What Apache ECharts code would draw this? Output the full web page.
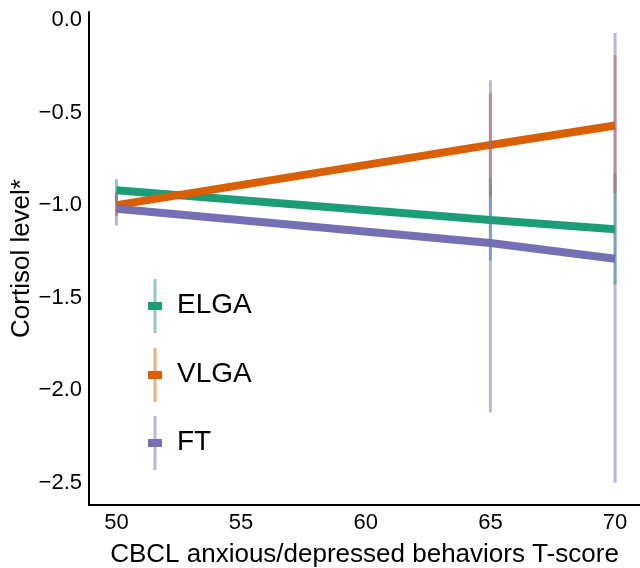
<!DOCTYPE html>
<html>
<head>
<meta charset="utf-8">
<script src="https://cdn.jsdelivr.net/npm/echarts@6/dist/echarts.min.js"></script>
<style>
html,body{margin:0;padding:0;background:#fff;}
#chart{width:640px;height:568px;}
</style>
</head>
<body>
<div id="chart"></div>
<script>
// ---- data ----
var xValues = [50, 65, 70];
var groups = ['ELGA', 'VLGA', 'FT'];
var elgaMean = [-0.92, -1.08, -1.13];
var elgaLow  = [-0.98, -1.30, -1.43];
var elgaHigh = [-0.86, -0.85, -0.83];
var vlgaMean = [-1.00, -0.675, -0.57];
var vlgaLow  = [-1.06, -0.955, -0.935];
var vlgaHigh = [-0.94, -0.395, -0.19];
var ftMean   = [-1.02, -1.205, -1.29];
var ftLow    = [-1.11, -2.12, -2.50];
var ftHigh   = [-0.93, -0.325, -0.07];
var xTicks = [50, 55, 60, 65, 70];
var yTicks = [0.0, -0.5, -1.0, -1.5, -2.0, -2.5];

var colors = ['#1b9e77', '#d95f02', '#7570b3'];
var lightColors = ['rgba(27,158,119,0.5)', 'rgba(217,95,2,0.5)', 'rgba(117,112,179,0.5)'];

var means = [elgaMean, vlgaMean, ftMean];
var lows = [elgaLow, vlgaLow, ftLow];
var highs = [elgaHigh, vlgaHigh, ftHigh];

var chart = echarts.init(document.getElementById('chart'), null, {renderer: 'canvas'});
var FONT = 'Liberation Sans, Arial, sans-serif';

var series = [];
groups.forEach(function (g, i) {
  series.push({
    name: g,
    type: 'line',
    data: xValues.map(function (x, k) { return [x, means[i][k]]; }),
    symbol: 'none',
    lineStyle: {color: colors[i], width: 8, cap: 'butt'},
    z: 2 + i,
    animation: false
  });
});
groups.forEach(function (g, i) {
  series.push({
    name: g + ' CI',
    type: 'custom',
    data: xValues.map(function (x, k) { return [x, lows[i][k], highs[i][k]]; }),
    renderItem: function (params, api) {
      var p1 = api.coord([api.value(0), api.value(1)]);
      var p2 = api.coord([api.value(0), api.value(2)]);
      return {
        type: 'line',
        shape: {x1: p1[0], y1: p1[1], x2: p2[0], y2: p2[1]},
        style: {stroke: lightColors[i], lineWidth: 3}
      };
    },
    z: 10 + i,
    animation: false
  });
});

// legend built as graphics
var legendGraphics = [];
var legendY = [306, 375, 443];
groups.forEach(function (g, i) {
  var cy = legendY[i];
  legendGraphics.push({
    type: 'line', shape: {x1: 155, y1: cy - 27, x2: 155, y2: cy + 27},
    style: {stroke: lightColors[i], lineWidth: 3}, z: 100
  });
  legendGraphics.push({
    type: 'rect', shape: {x: 148, y: cy - 4, width: 14, height: 8},
    style: {fill: colors[i]}, z: 101
  });
  legendGraphics.push({
    type: 'text', left: 177, top: cy - 15,
    style: {text: g, fill: '#000', font: '28px ' + FONT, textVerticalAlign: 'top'}, z: 101
  });
});

chart.setOption({
  backgroundColor: '#fff',
  animation: false,
  grid: {left: 89, right: 0, top: 12, bottom: 63, containLabel: false, outerBoundsMode: 'none'},
  xAxis: {
    type: 'value', min: 48.9, max: 71.0, interval: 5,
    name: 'CBCL anxious/depressed behaviors T-score',
    nameLocation: 'middle', nameGap: 37, nameMoveOverlap: false,
    nameTextStyle: {fontSize: 26, color: '#000', fontFamily: FONT},
    axisLine: {show: true, onZero: false, lineStyle: {color: '#000', width: 2}},
    axisTick: {show: false},
    splitLine: {show: false},
    axisLabel: {
      color: '#000', fontSize: 22, fontFamily: FONT, margin: 7,
      customValues: xTicks,
      formatter: function (v) { return String(v); }
    }
  },
  yAxis: {
    type: 'value', min: -2.62, max: 0.043,
    name: 'Cortisol level*',
    nameLocation: 'middle', nameGap: 54, nameRotate: 90, nameMoveOverlap: false,
    nameTextStyle: {fontSize: 26, color: '#000', fontFamily: FONT},
    axisLine: {show: true, onZero: false, lineStyle: {color: '#000', width: 2}},
    axisTick: {show: false},
    splitLine: {show: false},
    axisLabel: {
      color: '#000', fontSize: 22, fontFamily: FONT, margin: 7,
      customValues: yTicks,
      formatter: function (v) {
        var s = Math.abs(v).toFixed(1);
        return (v < 0 ? '\u2212' : '') + s;
      }
    }
  },
  series: series,
  graphic: legendGraphics
});
</script>
</body>
</html>
